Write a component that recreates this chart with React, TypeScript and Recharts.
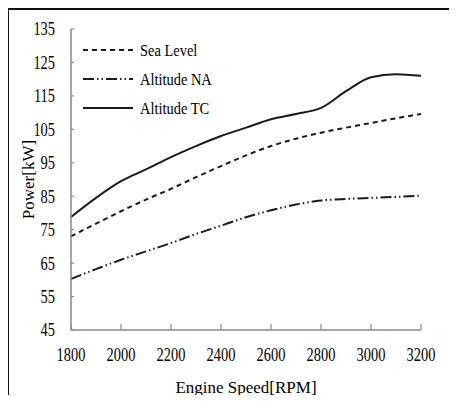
import { LineChart, Line, XAxis, YAxis, Legend } from "recharts";

// engine power vs speed
const rpm = [1800, 1900, 2000, 2100, 2200, 2300, 2400, 2500, 2600, 2700, 2800, 2900, 3000, 3100, 3200];
const seaLevel = [73, 76.8, 80.5, 84, 87.2, 90.7, 94, 97.2, 100, 102.2, 104, 105.5, 106.9, 108.3, 109.6];
const altitudeNA = [60.3, 63.2, 66, 68.5, 71, 73.7, 76.2, 78.7, 80.8, 82.5, 83.7, 84.2, 84.5, 84.8, 85.2];
const altitudeTC = [78.8, 84.5, 89.5, 93, 96.7, 100, 103, 105.5, 108, 109.6, 111.4, 116.4, 120.6, 121.5, 121];

const xTicks = [1800, 2000, 2200, 2400, 2600, 2800, 3000, 3200];
const yTicks = [45, 55, 65, 75, 85, 95, 105, 115, 125, 135];

const seriesNames = ["Sea Level", "Altitude NA", "Altitude TC"];

const data = rpm.map((r, i) => ({
  rpm: r,
  sea: seaLevel[i],
  na: altitudeNA[i],
  tc: altitudeTC[i],
}));

const FONT = "'Liberation Serif', 'Times New Roman', serif";
const AXIS = "#8a8a8a";
const INK = "#1b1b1b";
const DASH_SEA = "5 4";
const DASH_NA = "11 3 1.5 3 1.5 3";

const Y_MARGIN = 16;
const X_MARGIN = 18;

function YTick({ x, y, payload }: any) {
  return (
    <g>
      <line x1={x + Y_MARGIN} x2={x + Y_MARGIN + 3} y1={y} y2={y} stroke={AXIS} strokeWidth={1.2} />
      <g transform={`translate(${x},${y}) scale(0.8,1)`}>
        <text textAnchor="end" dy="0.36em" fontFamily={FONT} fontSize={18} fill="#000">
          {payload.value}
        </text>
      </g>
    </g>
  );
}

function XTick({ x, y, payload }: any) {
  return (
    <g>
      <line x1={x} x2={x} y1={y - X_MARGIN} y2={y - X_MARGIN - 6} stroke={AXIS} strokeWidth={1.2} />
      <g transform={`translate(${x},${y + 13}) scale(0.8,1)`}>
        <text textAnchor="middle" fontFamily={FONT} fontSize={18} fill="#000">
          {payload.value}
        </text>
      </g>
    </g>
  );
}

function LegendBox() {
  const dashes = [DASH_SEA, DASH_NA, undefined];
  return (
    <svg width={140} height={80} style={{ display: "block" }}>
      {seriesNames.map((name, i) => {
        const cy = 10 + i * 29;
        return (
          <g key={name}>
            <line x1={2} x2={52} y1={cy} y2={cy} stroke={INK} strokeWidth={2} strokeDasharray={dashes[i]} />
            <g transform={`translate(59,${cy}) scale(0.85,1)`}>
              <text dy="0.33em" fontFamily={FONT} fontSize={17} fill="#000">
                {name}
              </text>
            </g>
          </g>
        );
      })}
    </svg>
  );
}

export default function App() {
  return (
    <div style={{ position: "relative", margin: -8, width: 457, height: 403, background: "#fff" }}>
      <div
        style={{
          position: "absolute",
          left: 7,
          top: 8,
          width: 450,
          height: 395,
          borderTop: "2px solid #111",
          borderLeft: "2px solid #111",
          pointerEvents: "none",
        }}
      />
      <LineChart
        width={457}
        height={403}
        data={data}
        margin={{ top: 29, right: 36, bottom: 0, left: 0 }}
        style={{ position: "absolute", left: 0, top: 0 }}
      >
        <XAxis
          dataKey="rpm"
          type="number"
          domain={[1800, 3200]}
          ticks={xTicks}
          height={73}
          tickSize={0}
          tickMargin={X_MARGIN}
          tickLine={false}
          axisLine={{ stroke: AXIS, strokeWidth: 1.5 }}
          tick={<XTick />}
          interval={0}
          label={{
            value: "Engine Speed[RPM]",
            position: "insideBottom",
            offset: 10,
            fontFamily: FONT,
            fontSize: 17,
            fill: "#000",
          }}
        />
        <YAxis
          type="number"
          domain={[45, 135]}
          ticks={yTicks}
          width={71}
          tickSize={0}
          tickMargin={Y_MARGIN}
          tickLine={false}
          axisLine={{ stroke: AXIS, strokeWidth: 1.5 }}
          tick={<YTick />}
          interval={0}
          label={{
            value: "Power[kW]",
            angle: -90,
            position: "insideLeft",
            offset: 19,
            dx: 9,
            fontFamily: FONT,
            fontSize: 17,
            fill: "#000",
            style: { textAnchor: "middle" },
          }}
        />
        <Legend
          layout="vertical"
          verticalAlign="middle"
          align="center"
          content={<LegendBox />}
          wrapperStyle={{ top: 40, left: 81, width: 140 }}
        />
        <Line dataKey="sea" name={seriesNames[0]} type="monotone" stroke={INK} strokeWidth={2} strokeDasharray={DASH_SEA} dot={false} isAnimationActive={false} />
        <Line dataKey="na" name={seriesNames[1]} type="monotone" stroke={INK} strokeWidth={2} strokeDasharray={DASH_NA} dot={false} isAnimationActive={false} />
        <Line dataKey="tc" name={seriesNames[2]} type="monotone" stroke={INK} strokeWidth={2} dot={false} isAnimationActive={false} />
      </LineChart>
    </div>
  );
}
